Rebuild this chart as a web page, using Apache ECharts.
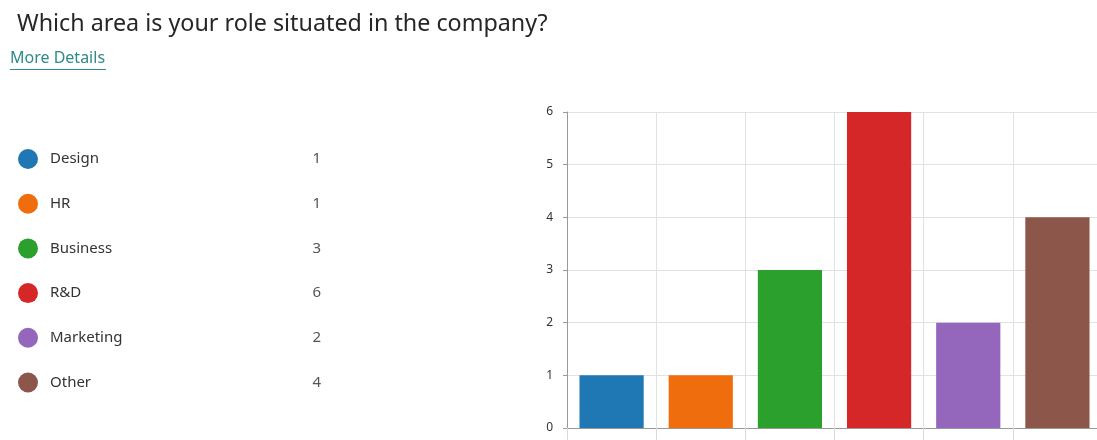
<!DOCTYPE html>
<html>
<head>
<meta charset="utf-8">
<script src="https://cdn.jsdelivr.net/npm/echarts@6/dist/echarts.min.js"></script>
<style>
  html, body { margin: 0; padding: 0; background: #fff; overflow: hidden; }
  /* the plot runs a few pixels past the right edge of the window */
  #chart { width: 1102px; height: 440px; }
</style>
</head>
<body>
<div id="chart"></div>
<script>
    // survey answers
    var categories = ['Design', 'HR', 'Business', 'R&D', 'Marketing', 'Other'];
    var counts = [1, 1, 3, 6, 2, 4];
    var colors = ['#1f77b4', '#ef6d0c', '#2ca02c', '#d62728', '#9467bd', '#8c564b'];
    var yTicks = [0, 1, 2, 3, 4, 5, 6];

    var font = '"Noto Sans", "Open Sans", sans-serif';

    // one series per answer so the legend lists them with their colour
    var series = categories.map(function (name, i) {
        var data = categories.map(function (c, j) { return j === i ? counts[i] : null; });
        return {
            name: name,
            type: 'bar',
            stack: 'all',
            barWidth: '72%',
            itemStyle: { color: colors[i] },
            data: data
        };
    });

    var chart = echarts.init(document.getElementById('chart'));
    chart.setOption({
        animation: false,
        title: {
            text: 'Which area is your role situated in the company?',
            left: 12,
            top: 8,
            textStyle: { fontFamily: font, fontSize: 23.3, fontWeight: 'normal', color: '#262626' }
        },
        graphic: [{
            type: 'group',
            left: 10,
            top: 50,
            children: [{
                type: 'text',
                style: { text: 'More Details', font: '16px ' + font, fill: '#2f8a8c' }
            }, {
                type: 'rect',
                shape: { x: 0, y: 19, width: 96, height: 1 },
                style: { fill: '#2f8a8c' }
            }]
        }],
        legend: {
            orient: 'vertical',
            left: 13,
            top: 144,
            itemWidth: 20,
            itemHeight: 20,
            itemGap: 24.7,
            icon: 'circle',
            selectedMode: false,
            data: categories,
            formatter: function (name) {
                return '{n|' + name + '}{v|' + counts[categories.indexOf(name)] + '}';
            },
            textStyle: {
                fontFamily: font,
                fontSize: 15,
                color: '#333',
                rich: {
                    n: { fontFamily: font, fontSize: 15, color: '#333', width: 251, padding: [0, 0, 0, 7] },
                    v: { fontFamily: font, fontSize: 15, color: '#555', width: 20, align: 'right' }
                }
            }
        },
        grid: { left: 567, top: 112, right: 0, bottom: 12 },
        xAxis: {
            type: 'category',
            data: categories,
            axisLine: { lineStyle: { color: '#9a9a9a' } },
            axisTick: { show: true, length: 12, lineStyle: { color: '#d9d9d9' } },
            axisLabel: { show: false },
            splitLine: { show: true, lineStyle: { color: '#e2e2e2' } }
        },
        yAxis: {
            type: 'value',
            min: yTicks[0],
            max: yTicks[yTicks.length - 1],
            interval: 1,
            axisLine: { show: true, lineStyle: { color: '#9a9a9a' } },
            axisTick: { show: true, length: 4, lineStyle: { color: '#9a9a9a' } },
            axisLabel: { fontFamily: font, fontSize: 12, color: '#333', margin: 14 },
            splitLine: { show: true, lineStyle: { color: '#e2e2e2' } }
        },
        series: series
    });
</script>
</body>
</html>
